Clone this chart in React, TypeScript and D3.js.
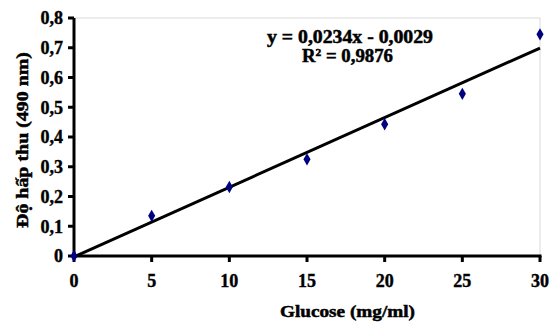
import React from 'react';
import * as d3 from 'd3';

const glucose = [0, 5, 10, 15, 20, 25, 30];
const absorbance = [0, 0.135, 0.232, 0.325, 0.443, 0.545, 0.745];
const slope = 0.0234;
const intercept = -0.0029;
const xTicks = [0, 5, 10, 15, 20, 25, 30];
const yTicks = [0, 0.1, 0.2, 0.3, 0.4, 0.5, 0.6, 0.7, 0.8];

const W = 559;
const H = 324;
const margin = { left: 74, right: 19, top: 18, bottom: 68 };

const fmt = (v: number) => (v === 0 ? '0' : d3.format('.1f')(v).replace('.', ','));

const App = () => {
  const x = d3.scaleLinear().domain([0, 30]).range([margin.left, W - margin.right]);
  const y = d3.scaleLinear().domain([0, 0.8]).range([H - margin.bottom, margin.top]);

  const fitLine = d3.line<number>()
    .x(d => x(d))
    .y(d => y(slope * d + intercept));

  const diamond = d3.symbol().type(d3.symbolDiamond).size(44)();

  const font = '"Liberation Serif", "Times New Roman", serif';
  const x0 = x(0), y0 = y(0);

  return (
    <svg width={W} height={H} style={{ position: 'absolute', left: 0, top: 0 }}
      fontFamily={font} fontWeight="bold">
      {/* plot area border */}
      <rect x={x0} y={y(0.8)} width={x(30) - x0} height={y0 - y(0.8)} fill="none" stroke="#d9d9d9" strokeWidth={1} />

      {/* fit line */}
      <path d={fitLine([0, 30]) ?? ''} fill="none" stroke="#000" strokeWidth={3} />

      {/* axes */}
      <line x1={x0} x2={x0} y1={y(0.8)} y2={y0 + 1.5} stroke="#000" strokeWidth={3} />
      <line x1={x0 - 1.5} x2={x(30) + 1.5} y1={y0} y2={y0} stroke="#000" strokeWidth={3} />

      <g stroke="#000" strokeWidth={0.4}>
        {yTicks.map(t => (
          <g key={'y' + t}>
            <line x1={x0 - 6} x2={x0} y1={y(t)} y2={y(t)} stroke="#000" strokeWidth={3} />
            <text x={x0 - 11} y={y(t)} dy="0.35em" textAnchor="end" fontSize={18}>{fmt(t)}</text>
          </g>
        ))}
        {xTicks.map(t => (
          <g key={'x' + t}>
            <line x1={x(t)} x2={x(t)} y1={y0} y2={y0 + 6} stroke="#000" strokeWidth={3} />
            <text x={x(t)} y={y0 + 31} textAnchor="middle" fontSize={18}>{t}</text>
          </g>
        ))}
      </g>

      {/* data points */}
      {glucose.map((g, i) => (
        <path key={g} d={diamond ?? ''} transform={`translate(${x(g)},${y(absorbance[i])})`} fill="#000080" />
      ))}

      <g stroke="#000" strokeWidth={0.5}>
        {/* equation */}
        <text x={267} y={43} fontSize={18} textLength={166} lengthAdjust="spacingAndGlyphs">y = 0,0234x - 0,0029</text>
        <text x={302} y={62} fontSize={18} textLength={91} lengthAdjust="spacingAndGlyphs">
          R<tspan fontSize={11} dy={-6}>2</tspan><tspan dy={6}> = 0,9876</tspan>
        </text>

        {/* axis titles */}
        <text x={280} y={317} fontSize={17} textLength={135} lengthAdjust="spacingAndGlyphs">Glucose (mg/ml)</text>
        <text transform={`translate(28,228) rotate(-90)`} fontSize={17} textLength={176} lengthAdjust="spacingAndGlyphs">Độ hấp thu (490 nm)</text>
      </g>
    </svg>
  );
};

export default App;
